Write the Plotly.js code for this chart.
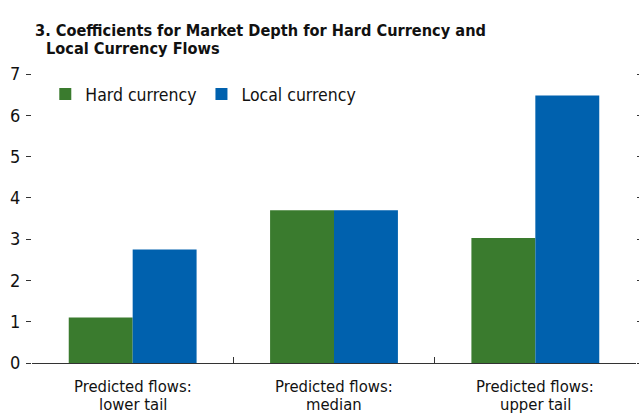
<!DOCTYPE html>
<html><head><meta charset="utf-8">
<script src="https://cdn.plot.ly/plotly-3.0.1.min.js"></script>
<style>html,body{margin:0;padding:0;background:#fff}#c{width:639px;height:414px}</style>
</head><body><div id="c"></div>
<script>
const categories = ["Predicted flows:<br>lower tail", "Predicted flows:<br>median", "Predicted flows:<br>upper tail"];
const hardCurrency = [1.1, 3.7, 3.03];
const localCurrency = [2.75, 3.7, 6.48];
const yTicks = [0, 1, 2, 3, 4, 5, 6, 7];
const titleLines = ["3. Coefficients for Market Depth for Hard Currency and", "Local Currency Flows"];

const FONT = "DejaVu Sans Condensed, Liberation Sans Narrow, Roboto, sans-serif";
const traces = [
  {type: "bar", name: "Hard currency", x: categories, y: hardCurrency, marker: {color: "#3a7b2e"}},
  {type: "bar", name: "Local currency", x: categories, y: localCurrency, marker: {color: "#0061ae"}},
  {type: "scatter", x: categories, y: hardCurrency, yaxis: "y2", mode: "none", showlegend: false, hoverinfo: "skip"}
];

// category labels drawn as two tightly spaced lines under each category
const catLabels = [];
categories.forEach(function (c) {
  c.split("<br>").forEach(function (line, i) {
    catLabels.push({text: line, xref: "x", yref: "y", x: c, y: 0, yshift: -23 - 18 * i, xanchor: "center", yanchor: "middle",
      borderpad: 0, showarrow: false, font: {family: FONT, size: 16.5, color: "#111"}});
  });
});

const layout = {
  width: 639, height: 414,
  margin: {l: 32, r: 3, t: 74, b: 51},
  paper_bgcolor: "#fff", plot_bgcolor: "#fff",
  font: {family: FONT, size: 17, color: "#111"},
  annotations: [
    {text: "<b>" + titleLines[0] + "</b>", xref: "paper", yref: "paper", x: 0, xshift: 1, y: 1.152, xanchor: "left", yanchor: "middle", showarrow: false, font: {family: FONT, size: 16.2, color: "#111"}},
    {text: "<b>" + titleLines[1] + "</b>", xref: "paper", yref: "paper", x: 0, xshift: 12, y: 1.090, yshift: -1, xanchor: "left", yanchor: "middle", showarrow: false, font: {family: FONT, size: 16.2, color: "#111"}}
  ].concat(catLabels),
  barmode: "group", bargap: 0.365, bargroupgap: 0,
  showlegend: true,
  legend: {orientation: "h", x: 0.022, y: 0.993, xanchor: "left", yanchor: "top", font: {family: FONT, size: 17.5}, itemwidth: 30, traceorder: "normal", bgcolor: "rgba(0,0,0,0)"},
  xaxis: {type: "category", tickson: "boundaries", ticks: "inside", ticklen: 6, tickcolor: "#333", showline: true, linecolor: "#333", linewidth: 1, showgrid: false, showticklabels: false, range: [-0.5, 2.5], fixedrange: true},
  yaxis: {range: [0, 7], tickvals: yTicks, ticks: "outside", ticklen: 5, tickcolor: "#333", showline: false, showgrid: false, zeroline: false, tickfont: {family: FONT, size: 18}, ticklabelstandoff: 2},
  yaxis2: {overlaying: "y", side: "right", range: [0, 7], tickvals: yTicks, ticks: "outside", ticklen: 3, tickcolor: "#333", showticklabels: false, showline: false, showgrid: false, zeroline: false}
};
Plotly.newPlot("c", traces, layout, {displayModeBar: false, staticPlot: true});
</script></body></html>
